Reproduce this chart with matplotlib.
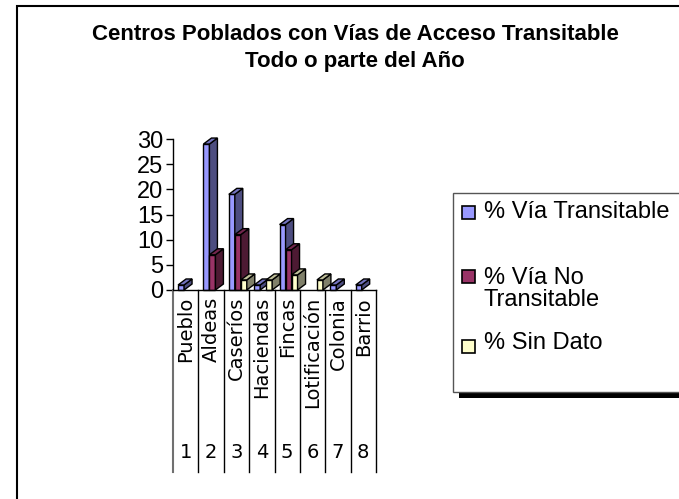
import matplotlib
matplotlib.use("Agg")
import matplotlib.pyplot as plt
from matplotlib.patches import Polygon, Rectangle

# data
categorias = ["Pueblo", "Aldeas", "Caseríos", "Haciendas", "Fincas",
              "Lotificación", "Colonia", "Barrio"]
numeros = ["1", "2", "3", "4", "5", "6", "7", "8"]
via_transitable = [1, 29, 19, 1, 13, 0, 1, 1]
via_no_transitable = [0, 7, 11, 0, 8, 0, 0, 0]
sin_dato = [0, 0, 2, 2, 3, 2, 0, 0]

series = [via_transitable, via_no_transitable, sin_dato]
etiquetas = ["% Vía Transitable", "% Vía No\nTransitable", "% Sin Dato"]
# front, side, top colours for each series
colores = [("#9999FF", "#4D4D80", "#7373BF"),
           ("#993366", "#4D1A33", "#73264D"),
           ("#FFFFCC", "#80806A", "#BFBF99")]

W, H = 679, 499
fig = plt.figure(figsize=(W / 100, H / 100), dpi=100)


def fx(px):
    return px / W


def fy(py):
    return 1 - py / H


# outer frame
fig.add_artist(Rectangle((fx(17), fy(520)), fx(700) - fx(17), fy(6) - fy(520),
                         transform=fig.transFigure, fill=False,
                         edgecolor="black", lw=1.5))

fig.text(fx(355), fy(35), "Centros Poblados con Vías de Acceso Transitable",
         ha="center", va="center", fontsize=16, fontweight="bold",
         family="Liberation Sans")
fig.text(fx(355), fy(61), "Todo o parte del Año",
         ha="center", va="center", fontsize=16, fontweight="bold",
         family="Liberation Sans")

ax = fig.add_axes([fx(173), fy(290), fx(376) - fx(173), fy(139) - fy(290)])
ax.set_xlim(0, len(categorias))
ax.set_ylim(0, 30)
ax.set_facecolor("none")
for s in ["top", "right", "bottom"]:
    ax.spines[s].set_visible(False)
ax.spines["left"].set_linewidth(1)
ax.set_xticks([])
ax.set_yticks([0, 5, 10, 15, 20, 25, 30])
ax.tick_params(axis="y", length=5, width=1, pad=2, labelsize=17)
for t in ax.get_yticklabels():
    t.set_family("Liberation Sans")

# pseudo 3D bars
bw = 0.236
dx = 0.315
dy = 1.19
for k in range(len(categorias)):
    for i, vals in enumerate(series):
        v = vals[k]
        if v <= 0:
            continue
        x = k + 0.2 + i * bw
        front, side, top = colores[i]
        ax.add_patch(Polygon([(x, 0), (x + bw, 0), (x + bw, v), (x, v)],
                             facecolor=front, edgecolor="black", lw=1,
                             clip_on=False))
        ax.add_patch(Polygon([(x + bw, 0), (x + bw + dx, dy),
                              (x + bw + dx, v + dy), (x + bw, v)],
                             facecolor=side, edgecolor="black", lw=1,
                             clip_on=False))
        ax.add_patch(Polygon([(x, v), (x + bw, v), (x + bw + dx, v + dy),
                              (x + dx, v + dy)],
                             facecolor=top, edgecolor="black", lw=1,
                             clip_on=False))

# category table under the axis
trans = ax.get_xaxis_transform()
ybot = (290 - 472) / 151
ax.plot([0, len(categorias)], [0, 0], color="black", lw=1, transform=trans,
        clip_on=False)
for k in range(len(categorias) + 1):
    ax.plot([k, k], [0, ybot], color="black" if k else "#707070",
            lw=1.5 if k == 0 else 1, transform=trans, clip_on=False)
for k, (c, n) in enumerate(zip(categorias, numeros)):
    ax.text(k + 0.5, -7 / 151, c, rotation=90, ha="center", va="top",
            fontsize=14, family="DejaVu Sans", transform=trans)
    ax.text(k + 0.5, (290 - 452) / 151, n, ha="center", va="center",
            fontsize=14, family="DejaVu Sans", transform=trans)

# legend box with shadow
fig.add_artist(Rectangle((fx(459), fy(398)), fx(720) - fx(459), fy(199) - fy(398),
                         transform=fig.transFigure, facecolor="black",
                         edgecolor="none"))
fig.add_artist(Rectangle((fx(453), fy(392)), fx(720) - fx(453), fy(193) - fy(392),
                         transform=fig.transFigure, facecolor="white",
                         edgecolor="#555555", lw=1))
marcas_y = [212, 276, 346]
textos_y = [212, 289, 343]
for i in range(3):
    fig.add_artist(Rectangle((fx(462), fy(marcas_y[i] + 6.5)), 13 / W, 13 / H,
                             transform=fig.transFigure,
                             facecolor=colores[i][0], edgecolor="black", lw=1.2))
    fig.text(fx(484), fy(textos_y[i]), etiquetas[i], ha="left", va="center",
             fontsize=17, family="Liberation Sans", linespacing=1.0)

fig.savefig("out.png", dpi=100)
